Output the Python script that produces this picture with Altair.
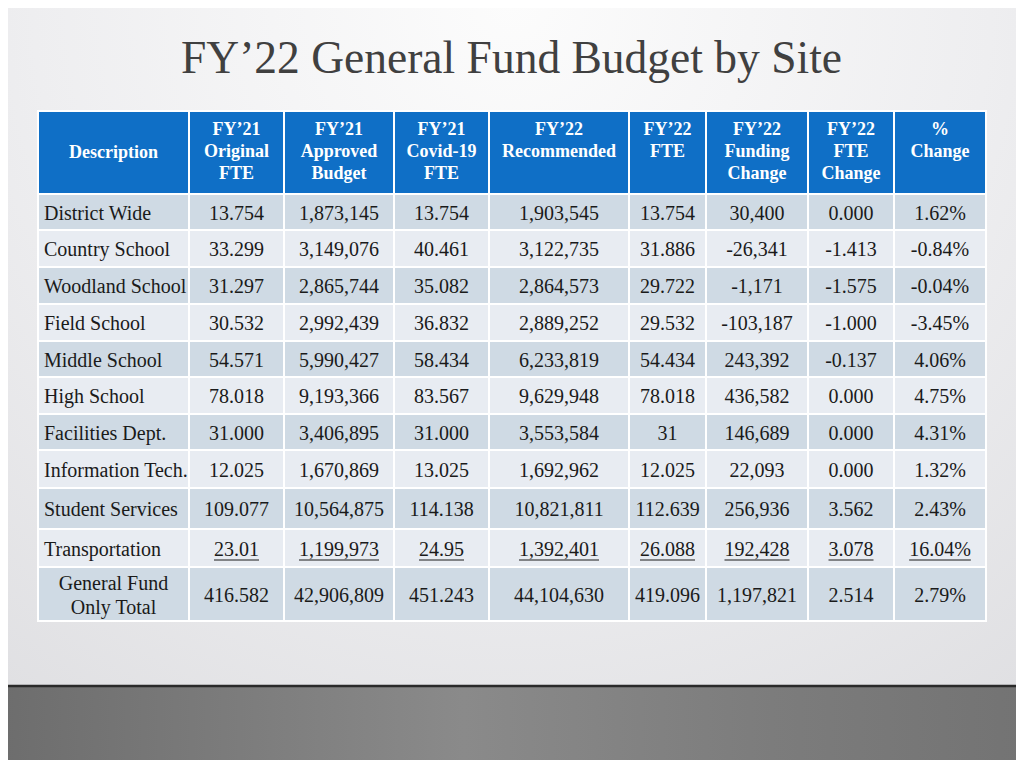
import altair as alt
import pandas as pd

# ---------------- data ----------------
title_text = "FY’22 General Fund Budget by Site"
headers = [
    ["Description"],
    ["FY’21", "Original", "FTE"],
    ["FY’21", "Approved", "Budget"],
    ["FY’21", "Covid-19", "FTE"],
    ["FY’22", "Recommended"],
    ["FY’22", "FTE"],
    ["FY’22", "Funding", "Change"],
    ["FY’22", "FTE", "Change"],
    ["%", "Change"],
]
descriptions = ["District Wide", "Country School", "Woodland School", "Field School",
                "Middle School", "High School", "Facilities Dept.", "Information Tech.",
                "Student Services", "Transportation", "General Fund\nOnly Total"]
fy21_original_fte = ["13.754", "33.299", "31.297", "30.532", "54.571", "78.018", "31.000",
                     "12.025", "109.077", "23.01", "416.582"]
fy21_approved_budget = ["1,873,145", "3,149,076", "2,865,744", "2,992,439", "5,990,427",
                        "9,193,366", "3,406,895", "1,670,869", "10,564,875", "1,199,973",
                        "42,906,809"]
fy21_covid_fte = ["13.754", "40.461", "35.082", "36.832", "58.434", "83.567", "31.000",
                  "13.025", "114.138", "24.95", "451.243"]
fy22_recommended = ["1,903,545", "3,122,735", "2,864,573", "2,889,252", "6,233,819",
                    "9,629,948", "3,553,584", "1,692,962", "10,821,811", "1,392,401",
                    "44,104,630"]
fy22_fte = ["13.754", "31.886", "29.722", "29.532", "54.434", "78.018", "31", "12.025",
            "112.639", "26.088", "419.096"]
fy22_funding_change = ["30,400", "-26,341", "-1,171", "-103,187", "243,392", "436,582",
                       "146,689", "22,093", "256,936", "192,428", "1,197,821"]
fy22_fte_change = ["0.000", "-1.413", "-1.575", "-1.000", "-0.137", "0.000", "0.000",
                   "0.000", "3.562", "3.078", "2.514"]
pct_change = ["1.62%", "-0.84%", "-0.04%", "-3.45%", "4.06%", "4.75%", "4.31%", "1.32%",
              "2.43%", "16.04%", "2.79%"]
underlined_row = "Transportation"

columns = [descriptions, fy21_original_fte, fy21_approved_budget, fy21_covid_fte,
           fy22_recommended, fy22_fte, fy22_funding_change, fy22_fte_change, pct_change]

# ---------------- layout ----------------
col_edges = [38, 189, 284, 394, 489, 629, 706, 808, 894, 986]
header_y = (111, 194)
row_edges = [194, 230, 267, 304, 341, 377, 414, 450, 488, 529, 567, 621]
HEADER = "#0f6fc6"
DARK = "#cfdae4"
LIGHT = "#e8ecf2"
BODY_SIZE = 20
HEAD_SIZE = 18
W, H = 1008, 752
X0, Y0 = 8, 8
DY = 1.5

cells, head_txt, body_c, body_l, ul = [], [], [], [], []
for c in range(len(col_edges) - 1):
    x0, x1 = col_edges[c], col_edges[c + 1]
    mid = (x0 + x1) / 2
    cells.append(dict(x0=x0, x1=x1, y0=header_y[0], y1=header_y[1], fill=HEADER))
    lines = headers[c]
    if len(lines) == 1:
        head_txt.append(dict(x=mid, y=151 + DY, t=lines[0]))
    else:
        for k, ln in enumerate(lines):
            head_txt.append(dict(x=mid, y=128 + DY + 22 * k, t=ln))
    for r in range(len(descriptions)):
        y0, y1 = row_edges[r], row_edges[r + 1]
        ym = (y0 + y1) / 2 + DY
        cells.append(dict(x0=x0, x1=x1, y0=y0, y1=y1, fill=DARK if r % 2 == 0 else LIGHT))
        t = columns[c][r]
        if c == 0:
            if "\n" in t:
                parts = t.split("\n")
                for k, p in enumerate(parts):
                    body_c.append(dict(x=mid, y=ym - 12 + 24 * k, t=p))
            else:
                body_l.append(dict(x=x0 + 6, y=ym, t=t))
        else:
            body_c.append(dict(x=mid, y=ym, t=t))
            if descriptions[r] == underlined_row:
                wmap = {",": 0.25, ".": 0.25, "%": 0.833, "-": 0.333}
                w = sum(wmap.get(ch, 0.5) for ch in t) * BODY_SIZE
                ul.append(dict(x=mid - w / 2, x2=mid + w / 2, y=ym + 10.5))

xs = alt.Scale(domain=[X0, X0 + W], nice=False, zero=False)
ys = alt.Scale(domain=[Y0, Y0 + H], nice=False, zero=False, reverse=True)

def X(f):
    return alt.X(f, type="quantitative", scale=xs, axis=None)

def Y(f):
    return alt.Y(f, type="quantitative", scale=ys, axis=None)

one = pd.DataFrame({"a": [0]})

bg = alt.Chart(one).mark_rect(fill={
    "gradient": "radial", "x1": 0.5, "y1": 0.12, "r1": 0.0,
    "x2": 0.5, "y2": 0.12, "r2": 0.95,
    "stops": [{"offset": 0, "color": "#fcfcfc"},
              {"offset": 0.5, "color": "#eeeef0"},
              {"offset": 1, "color": "#dcdcdf"}]}).encode(
    x=alt.value(0), x2=alt.value(W), y=alt.value(0), y2=alt.value(H))

band_df = pd.DataFrame({"y": [686], "y2": [770], "x": [0], "x2": [1030]})
band = alt.Chart(band_df).mark_rect(fill={
    "gradient": "linear", "x1": 0, "y1": 0, "x2": 1, "y2": 0,
    "stops": [{"offset": 0, "color": "#6d6d6d"},
              {"offset": 0.45, "color": "#8a8a8a"},
              {"offset": 0.75, "color": "#7c7c7c"},
              {"offset": 1, "color": "#737373"}]}).encode(
    x=X("x"), x2="x2", y=Y("y"), y2="y2")
band_line = alt.Chart(band_df).mark_rule(color="#2a2a2a", strokeWidth=2.5).encode(
    x=X("x"), x2="x2", y=Y("y"))

title = alt.Chart(pd.DataFrame({"t": [title_text], "x": [511.5], "y": [73]})).mark_text(
    font="Liberation Serif", fontSize=45.5, color="#404040", baseline="alphabetic",
    align="center").encode(x=X("x"), y=Y("y"), text="t:N")

rects = alt.Chart(pd.DataFrame(cells)).mark_rect(stroke="white", strokeWidth=2).encode(
    x=X("x0"), x2="x1", y=Y("y0"), y2="y1", fill=alt.Fill("fill:N", scale=None))

htext = alt.Chart(pd.DataFrame(head_txt)).mark_text(
    font="Liberation Serif", fontSize=HEAD_SIZE, fontWeight="bold", color="white",
    align="center", baseline="middle").encode(x=X("x"), y=Y("y"), text="t:N")

btext_c = alt.Chart(pd.DataFrame(body_c)).mark_text(
    font="Liberation Serif", fontSize=BODY_SIZE, color="#1a1a1a",
    align="center", baseline="middle").encode(x=X("x"), y=Y("y"), text="t:N")

btext_l = alt.Chart(pd.DataFrame(body_l)).mark_text(
    font="Liberation Serif", fontSize=BODY_SIZE, color="#1a1a1a",
    align="left", baseline="middle").encode(x=X("x"), y=Y("y"), text="t:N")

under = alt.Chart(pd.DataFrame(ul)).mark_rule(color="#1a1a1a", strokeWidth=1).encode(
    x=X("x"), x2="x2", y=Y("y"))

chart = alt.layer(bg, band, band_line, title, rects, htext, btext_c, btext_l, under).properties(
    width=W, height=H, padding=0, autosize="none"
).configure_view(stroke=None).configure(background="#e6e6e8")

chart.save("out.html", embed_options={"renderer": "svg", "actions": False})
